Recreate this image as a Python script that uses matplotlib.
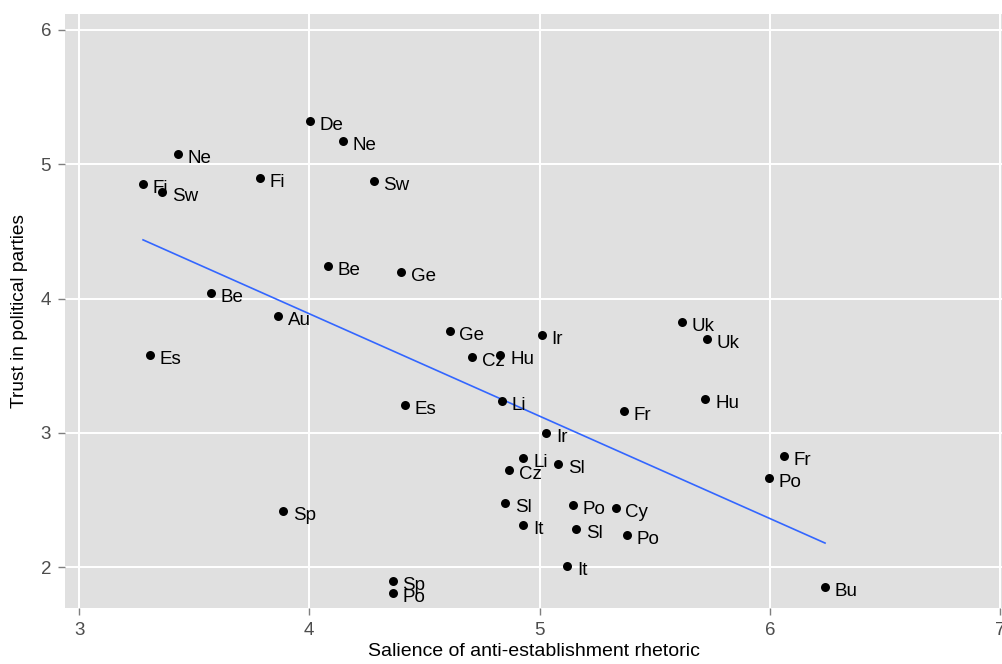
import numpy as np
import matplotlib
matplotlib.use("Agg")
import matplotlib.pyplot as plt

plt.rcParams['font.family'] = ['Liberation Sans', 'DejaVu Sans']

countries = ["Fi", "Sw", "Ne", "Fi", "De", "Ne", "Sw", "Be", "Ge", "Be",
             "Au", "Es", "Ge", "Ir", "Cz", "Hu", "Uk", "Uk", "Hu", "Fr",
             "Es", "Li", "Ir", "Li", "Sl", "Cz", "Sl", "Po", "Cy", "It",
             "Sl", "Po", "It", "Sp", "Sp", "Po", "Fr", "Po", "Bu"]
salience = [3.278, 3.36, 3.43, 3.786, 4.003, 4.146, 4.28, 4.08, 4.40, 3.573,
            3.864, 3.308, 4.61, 5.01, 4.706, 4.83, 5.62, 5.727, 5.72, 5.367,
            4.416, 4.837, 5.03, 4.93, 5.08, 4.867, 4.85, 5.145, 5.33, 4.93,
            5.16, 5.38, 5.12, 3.886, 4.363, 4.363, 6.06, 5.996, 6.24]
trust = [4.853, 4.79, 5.08, 4.90, 5.32, 5.17, 4.875, 4.24, 4.20, 4.04,
         3.87, 3.58, 3.76, 3.73, 3.566, 3.58, 3.825, 3.70, 3.25, 3.16,
         3.21, 3.24, 3.00, 2.81, 2.77, 2.72, 2.48, 2.46, 2.44, 2.31,
         2.28, 2.24, 2.01, 2.42, 1.896, 1.81, 2.83, 2.66, 1.85]

x_ticks = [3, 4, 5, 6, 7]
y_ticks = [2, 3, 4, 5, 6]

fig = plt.figure(figsize=(10.03, 6.64), dpi=100)
ax = fig.add_axes([65/1003, 56/664, 1 - 65/1003, 594/664])
ax.set_facecolor('#E0E0E0')
ax.set_axisbelow(True)
ax.grid(True, color='white', linewidth=1.4)
for s in ax.spines.values():
    s.set_visible(False)

xs = np.array(salience)
ys = np.array(trust)
ax.scatter(xs, ys, s=42, color='black', zorder=3, linewidths=0)
for c, x, y in zip(countries, xs, ys):
    ax.annotate(c, (x, y), xytext=(7, -6.5), textcoords='offset points',
                ha='left', va='baseline', fontsize=13.5, color='black', zorder=4)

slope, intercept = np.polyfit(xs, ys, 1)
lx = np.array([xs.min(), xs.max()])
ax.plot(lx, intercept + slope * lx, color='#3366FF', linewidth=1.2, zorder=2)

ax.set_xlim(2.939, 7.013)
ax.set_ylim(1.695, 6.119)
ax.set_xticks(x_ticks)
ax.set_yticks(y_ticks)
ax.set_xticklabels([str(t) for t in x_ticks])
ax.set_yticklabels([str(t) for t in y_ticks])
ax.tick_params(axis='both', colors='#7F7F7F', labelcolor='#4D4D4D',
               labelsize=13.5, length=5, width=1, direction='out', pad=5)

ax.set_xlabel('Salience of anti-establishment rhetoric', fontsize=14,
              color='black', labelpad=3)
ax.set_ylabel('Trust in political parties', fontsize=13.8,
              color='black', labelpad=9)

fig.savefig('out.png', dpi=100)
